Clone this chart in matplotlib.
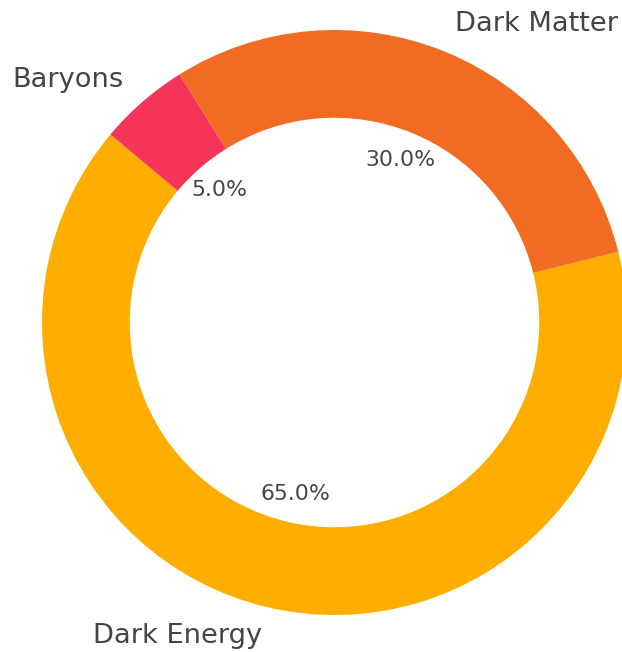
import matplotlib
matplotlib.use('Agg')
import matplotlib.pyplot as plt

# composition of the universe
labels = ['Dark Energy', 'Dark Matter', 'Baryons']
shares = [65, 30, 5]
colors = ['#FFAE00', '#F26B22', '#F5345A']

fig = plt.figure(figsize=(6.22, 6.52), dpi=100)
ax = fig.add_axes([0, 0, 1, 1])

wedges, texts, autotexts = ax.pie(
    shares, labels=labels, colors=colors, autopct='%1.1f%%',
    startangle=140, pctdistance=0.6, labeldistance=1.1,
    wedgeprops=dict(width=0.3, edgecolor='none'),
    textprops=dict(color='#444444'))

for t in texts:
    t.set_fontsize(19.6)
for t in autotexts:
    t.set_fontsize(15.8)

# ring slightly cropped on the right, as a tight bbox would leave it
ax.set_aspect('auto')
ax.set_xlim(-1.1436, 0.9829)
ax.set_ylim(-1.1265, 1.1026)
ax.axis('off')

fig.savefig('out.png', dpi=100)
